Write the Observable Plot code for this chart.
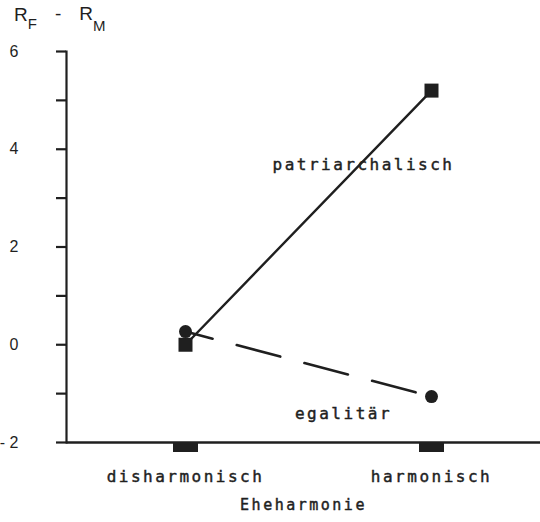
<!DOCTYPE html>
<html><head><meta charset="utf-8">
<script src="https://cdn.jsdelivr.net/npm/d3@7"></script>
<script src="https://cdn.jsdelivr.net/npm/@observablehq/plot@0.6"></script>
<style>body{margin:0;background:#fff}#chart{position:relative;width:540px;height:522px}</style>
</head><body><div id="chart"></div>
<script>
const categories = ["disharmonisch", "harmonisch"];
const patriarchalisch = [0.0, 5.2];
const egalitaer = [0.27, -1.06];
const yTicks = [-2, -1, 0, 1, 2, 3, 4, 5, 6];
const yTickLabels = [-2, 0, 2, 4, 6];
const xTitle = "Eheharmonie";
const seriesNames = ["patriarchalisch", "egalitär"];
const labelPos = [3.69, -1.41];

const ink = "#1f1f1f";
const mono = "'DejaVu Sans Mono', 'Liberation Mono', monospace";
const sans = "'Liberation Sans', Arial, sans-serif";

const patri = categories.map((c, i) => ({x: c, y: patriarchalisch[i]}));
const egal = categories.map((c, i) => ({x: c, y: egalitaer[i]}));

const chart = Plot.plot({
  width: 540,
  height: 522,
  marginLeft: 66,
  marginRight: 0,
  marginTop: 51,
  marginBottom: 80,
  style: {fontFamily: sans, color: ink, background: "white"},
  x: {type: "point", domain: categories, range: [185, 431], padding: 0},
  y: {domain: [-2, 6]},
  marks: [
    Plot.frame({anchor: "left", stroke: ink, strokeWidth: 2.2}),
    Plot.ruleY([-2], {stroke: ink, strokeWidth: 2.6}),
    Plot.axisY({ticks: yTicks, tickSize: 10, tickPadding: 38, strokeWidth: 2.2, stroke: ink,
      fontSize: 16, fontFamily: sans, fill: ink,
      tickFormat: d => yTickLabels.includes(d) ? (d < 0 ? "- " + Math.abs(d) : String(d)) : "",
      label: null}),
    Plot.axisX({tickSize: 10, strokeWidth: 25, stroke: ink, tickFormat: () => "", label: null}),
    Plot.axisX({tickSize: 0, tickPadding: 28, fontSize: 16, fontFamily: mono, fill: ink, label: null}),
    Plot.line(patri, {x: "x", y: "y", stroke: ink, strokeWidth: 2.4}),
    Plot.line(egal, {x: "x", y: "y", stroke: ink, strokeWidth: 2.6, strokeDasharray: "45,25", strokeDashoffset: 17}),
    Plot.dot(patri, {x: "x", y: "y", symbol: "square", r: 7.9, fill: ink, stroke: "none"}),
    Plot.dot(egal, {x: "x", y: "y", symbol: "circle", r: 6.5, fill: ink, stroke: "none"}),
    Plot.text([seriesNames[0]], {x: () => categories[1], y: () => labelPos[0], text: d => d, dx: -68,
      fontSize: 16, fontFamily: mono, fill: ink}),
    Plot.text([seriesNames[1]], {x: () => categories[1], y: () => labelPos[1], text: d => d, dx: -88,
      fontSize: 16, fontFamily: mono, fill: ink}),
    Plot.text([xTitle], {frameAnchor: "bottom", dy: 67, text: d => d, fontSize: 15, fontFamily: mono, fill: ink})
  ]
});

const svg = d3.select(chart);
const monoTexts = new Set([...seriesNames, xTitle, ...categories]);
svg.selectAll("text").filter(function(){ return monoTexts.has(this.textContent); })
  .style("letter-spacing", "2.5px")
  .attr("stroke", ink).attr("stroke-width", 0.45);

const t = svg.append("text").attr("x", 14).attr("y", 21).attr("fill", ink)
  .attr("text-anchor", "start").style("text-anchor", "start")
  .attr("font-family", sans).attr("font-size", 19);
t.append("tspan").text("R");
t.append("tspan").attr("font-size", 15).attr("dy", 8).text("F");
t.append("tspan").attr("dy", -9).attr("dx", 18).text("-");
t.append("tspan").attr("dx", 18).text("R");
t.append("tspan").attr("font-size", 15).attr("dy", 11).text("M");

document.getElementById("chart").appendChild(chart);
</script>
</body></html>
